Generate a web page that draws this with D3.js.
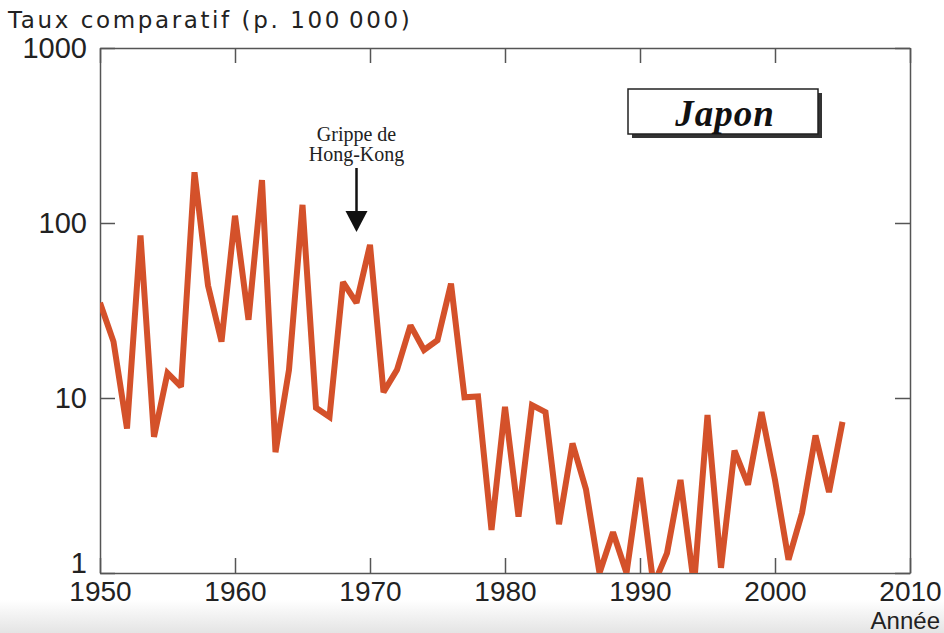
<!DOCTYPE html>
<html>
<head>
<meta charset="utf-8">
<script src="https://d3js.org/d3.v7.min.js"></script>
<style>
  body { margin: 0; background: #fff; }
  svg { display: block; }
</style>
</head>
<body>
<svg id="chart" width="944" height="633"></svg>
<script>
// Japon, taux comparatif de mortalité (p. 100 000), échelle log
var years = d3.range(1950, 2006);
var rates = [35, 21, 6.7, 85, 6, 13.9, 11.6, 195, 44, 21,
             110, 28, 176, 4.9, 14.5, 127, 8.8, 7.8, 46, 35,
             75, 10.8, 14.5, 26, 18.8, 21.4, 45, 10.1, 10.2, 1.76,
             8.9, 2.1, 9.1, 8.3, 1.9, 5.5, 3.0, 1.0, 1.71, 1.0,
             3.5, 0.85, 1.3, 3.4, 0.85, 8.0, 1.07, 5.0, 3.2, 8.3,
             3.4, 1.19, 2.2, 6.1, 2.9, 7.3];
var xTicks = [1950, 1960, 1970, 1980, 1990, 2000, 2010];
var yTicks = [1, 10, 100, 1000];

var svg = d3.select("#chart");
var mLeft = 100, mRight = 910, mTop = 48, mBottom = 573;

var x = d3.scaleLinear().domain([1950, 2010]).range([mLeft, mRight]);
var y = d3.scaleLog().domain([1, 1000]).range([mBottom, mTop]);

// light grey band at the bottom
var defs = svg.append("defs");
var grad = defs.append("linearGradient")
    .attr("id", "band").attr("x1", 0).attr("y1", 0).attr("x2", 0).attr("y2", 1);
grad.append("stop").attr("offset", "0%").attr("stop-color", "#ffffff");
grad.append("stop").attr("offset", "100%").attr("stop-color", "#e4e4e4");
svg.append("rect").attr("x", 0).attr("y", 600).attr("width", 944).attr("height", 33)
    .attr("fill", "url(#band)");

defs.append("clipPath").attr("id", "plot")
    .append("rect").attr("x", mLeft).attr("y", mTop)
    .attr("width", mRight - mLeft).attr("height", mBottom - mTop);

var axisColor = "#555";
var font = "'Liberation Sans', Arial, sans-serif";

// axes, ticks pointing inward
var gx = svg.append("g").attr("transform", "translate(0," + mBottom + ")")
    .call(d3.axisBottom(x).tickValues(xTicks).tickFormat(d3.format("d"))
        .tickSize(-15).tickSizeOuter(0).tickPadding(8));
var gxt = svg.append("g").attr("transform", "translate(0," + mTop + ")")
    .call(d3.axisTop(x).tickValues(xTicks).tickFormat("")
        .tickSize(-15).tickSizeOuter(0));
var gy = svg.append("g").attr("transform", "translate(" + mLeft + ",0)")
    .call(d3.axisLeft(y).tickValues(yTicks).tickFormat(d3.format("d"))
        .tickSize(-15).tickSizeOuter(0).tickPadding(13));
var gyr = svg.append("g").attr("transform", "translate(" + mRight + ",0)")
    .call(d3.axisRight(y).tickValues(yTicks).tickFormat("")
        .tickSize(-15).tickSizeOuter(0));

[gx, gxt, gy, gyr].forEach(function(g) {
    g.select(".domain").attr("stroke", axisColor).attr("stroke-width", 1.5);
    g.selectAll(".tick line").attr("stroke", axisColor).attr("stroke-width", 1.5);
    g.selectAll(".tick text").attr("fill", "#222")
        .style("font-family", font).style("font-size", "29px");
});
gx.selectAll(".tick text").style("font-size", "28px");
// keep the "1" clear of the year labels
gy.selectAll(".tick text").filter(function(d) { return d === 1; }).attr("y", -10);

// the series
var line = d3.line()
    .x(function(d, i) { return x(years[i]); })
    .y(function(d) { return y(d); });

svg.append("path")
    .datum(rates)
    .attr("clip-path", "url(#plot)")
    .attr("d", line)
    .attr("fill", "none")
    .attr("stroke", "#d4512a")
    .attr("stroke-width", 6)
    .attr("stroke-linejoin", "miter")
    .attr("stroke-miterlimit", 2.2);

// titles
svg.append("text").attr("x", 8).attr("y", 28)
    .style("font-family", "'DejaVu Sans', sans-serif").style("font-size", "23px")
    .style("letter-spacing", "2.6px")
    .attr("fill", "#222")
    .text("Taux comparatif (p. 100\u2009000)");

svg.append("text").attr("x", 940).attr("y", 629).attr("text-anchor", "end")
    .style("font-family", font).style("font-size", "24px").attr("fill", "#222")
    .text("Année");

// country box
svg.append("rect").attr("x", 632).attr("y", 93).attr("width", 190).attr("height", 45)
    .attr("fill", "#333");
svg.append("rect").attr("x", 628).attr("y", 89).attr("width", 190).attr("height", 45)
    .attr("fill", "#fff").attr("stroke", "#222").attr("stroke-width", 1.5);
svg.append("text").attr("x", 725).attr("y", 126).attr("text-anchor", "middle")
    .style("font-family", "'Liberation Serif', serif").style("font-size", "37px")
    .style("font-style", "italic").style("font-weight", "bold").attr("fill", "#111")
    .style("letter-spacing", "1px")
    .text("Japon");

// Hong Kong flu annotation
var ax = x(1969);
var note = svg.append("text").attr("text-anchor", "middle")
    .style("font-family", "'Liberation Serif', serif").style("font-size", "20px")
    .attr("fill", "#222");
note.append("tspan").attr("x", ax).attr("y", 141).text("Grippe de");
note.append("tspan").attr("x", ax).attr("y", 161).text("Hong-Kong");

svg.append("line").attr("x1", ax).attr("x2", ax).attr("y1", 168).attr("y2", 212)
    .attr("stroke", "#111").attr("stroke-width", 2.5);
svg.append("path")
    .attr("d", "M" + (ax - 11) + ",211 L" + (ax + 11) + ",211 L" + ax + ",232 Z")
    .attr("fill", "#111");
</script>
</body>
</html>
